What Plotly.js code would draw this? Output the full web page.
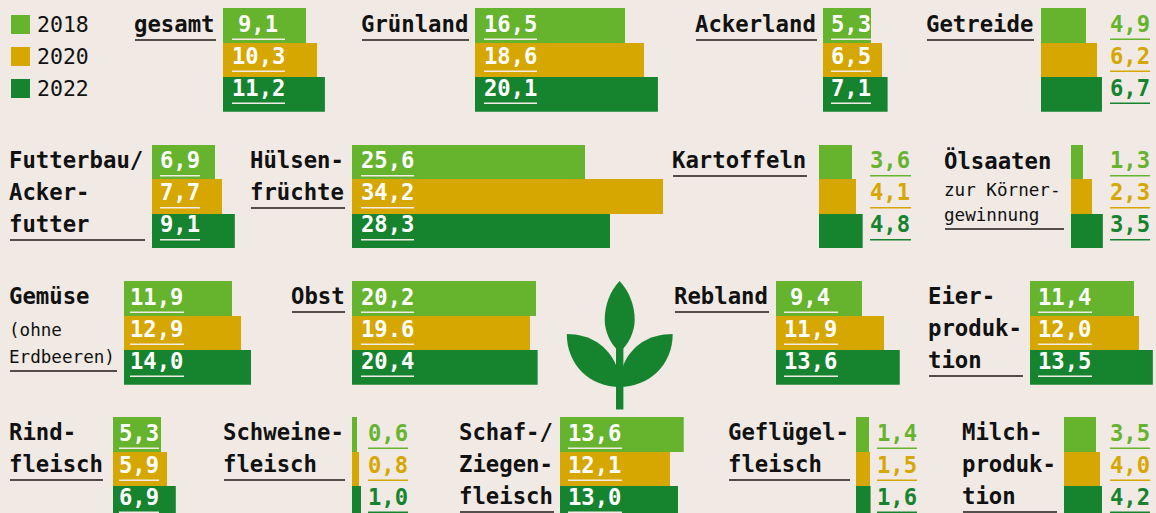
<!DOCTYPE html>
<html lang="de">
<head>
<meta charset="utf-8">
<script src="https://cdn.plot.ly/plotly-3.0.1.min.js"></script>
<style>
html,body{margin:0;padding:0;background:#f0e9e4;overflow:hidden;width:1156px;height:513px}
#chart{width:1156px;height:540px}
</style>
</head>
<body>
<div id="chart"></div>
<script>
const years = ["2018", "2020", "2022"];
const seriesColors = ["#66b32e", "#d6a700", "#16842f"];

const categories = ["gesamt","Grünland","Ackerland","Getreide","Futterbau","Hülsenfrüchte","Kartoffeln","Ölsaaten","Gemüse","Obst","Rebland","Eierproduktion","Rindfleisch","Schweinefleisch","Schaf/Ziegenfleisch","Geflügelfleisch","Milchproduktion"];
const values2018 = [9.1,16.5,5.3,4.9,6.9,25.6,3.6,1.3,11.9,20.2,9.4,11.4,5.3,0.6,13.6,1.4,3.5];
const values2020 = [10.3,18.6,6.5,6.2,7.7,34.2,4.1,2.3,12.9,19.6,11.9,12.0,5.9,0.8,12.1,1.5,4.0];
const values2022 = [11.2,20.1,7.1,6.7,9.1,28.3,4.8,3.5,14.0,20.4,13.6,13.5,6.9,1.0,13.0,1.6,4.2];
const labels2018 = ["9,1","16,5","5,3","4,9","6,9","25,6","3,6","1,3","11,9","20,2","9,4","11,4","5,3","0,6","13,6","1,4","3,5"];
const labels2020 = ["10,3","18,6","6,5","6,2","7,7","34,2","4,1","2,3","12,9","19.6","11,9","12,0","5,9","0,8","12,1","1,5","4,0"];
const labels2022 = ["11,2","20,1","7,1","6,7","9,1","28,3","4,8","3,5","14,0","20,4","13,6","13,5","6,9","1,0","13,0","1,6","4,2"];

// layout of each small multiple: bar start, row, label box, title lines
const W = 1156, H = 540, PX_PER_UNIT = 9.1;
const rowTops = [8, 144.5, 281, 417];
const FONT = '"DejaVu Sans Mono", monospace';
const panels = [
 {x:223,r:0,lx:232,lw:53,tx:135,ul:[216,40],t:[["gesamt",24,1]]},
 {x:475,r:0,lx:484,lw:53,tx:362,ul:[469,40],t:[["Grünland",24,1]]},
 {x:823,r:0,lx:831,lw:40,tx:696,ul:[817,40],t:[["Ackerland",24,1]]},
 {x:1041,r:0,lx:1110,lw:40,out:1,tx:927,ul:[1034,40],t:[["Getreide",24,1]]},
 {x:152,r:1,lx:160,lw:40,tx:10,ul:[145,240],t:[["Futterbau/",160,1],["Acker-",192,1],["futter",224,1]]},
 {x:352,r:1,lx:361,lw:53,tx:251,ul:[345,208],t:[["Hülsen-",160,1],["früchte",192,1]]},
 {x:819,r:1,lx:870,lw:41,out:1,tx:673,ul:[807,176],t:[["Kartoffeln",160,1]]},
 {x:1071,r:1,lx:1110,lw:40,out:1,tx:945,ul:[1064,229],t:[["Ölsaaten",160,1],["zur Körner-",190,0],["gewinnung",215,0]]},
 {x:124,r:2,lx:130,lw:54,tx:10,ul:[117,371],t:[["Gemüse",296,1],["(ohne",330,0],["Erdbeeren)",357,0]]},
 {x:352,r:2,lx:361,lw:53,tx:292,ul:[345,312],t:[["Obst",296,1]]},
 {x:776,r:2,lx:784,lw:54,tx:675,ul:[769,312],t:[["Rebland",296,1]]},
 {x:1030,r:2,lx:1038,lw:54,tx:929,ul:[1023,376],t:[["Eier-",296,1],["produk-",328,1],["tion",360,1]]},
 {x:113,r:3,lx:119,lw:40,tx:10,ul:[103,480],t:[["Rind-",432,1],["fleisch",464,1]]},
 {x:352,r:3,lx:368,lw:40,out:1,tx:224,ul:[345,480],t:[["Schweine-",432,1],["fleisch",464,1]]},
 {x:560,r:3,lx:568,lw:54,tx:460,ul:[554,512],t:[["Schaf-/",432,1],["Ziegen-",464,1],["fleisch",496,1]]},
 {x:856,r:3,lx:877,lw:40,out:1,tx:729,ul:[850,480],t:[["Geflügel-",432,1],["fleisch",464,1]]},
 {x:1064,r:3,lx:1110,lw:40,out:1,tx:963,ul:[1057,512],t:[["Milch-",432,1],["produk-",464,1],["tion",496,1]]}
];

const px = x => x / W, py = y => 1 - y / H;
const traces = [], annotations = [], shapes = [];
const layout = {
  width: W, height: H, margin: {l:0,r:0,t:0,b:0},
  paper_bgcolor: "#f0e9e4", plot_bgcolor: "rgba(0,0,0,0)",
  showlegend: false, bargap: 0, hovermode: false,
  annotations, shapes
};
const text = (s, x, y, size, bold, color, anchor) => annotations.push({
  text: bold ? "<b>" + s + "</b>" : s, xref:"paper", yref:"paper", x:px(x), y:py(y),
  xanchor: anchor || "left", yanchor:"middle", showarrow:false, borderpad:0, borderwidth:0,
  font:{family:FONT, size, color}
});
const rule = (x0, x1, y, color, width) => shapes.push({
  type:"line", xref:"paper", yref:"paper", x0:px(x0), x1:px(x1), y0:py(y), y1:py(y),
  line:{color, width}, layer:"above"
});

categories.forEach((name, i) => {
  const p = panels[i], id = i === 0 ? "" : String(i + 1);
  const vals = [values2018[i], values2020[i], values2022[i]];
  const labs = [labels2018[i], labels2020[i], labels2022[i]];
  const maxV = Math.max(...vals), top = rowTops[p.r];
  traces.push({
    type:"bar", orientation:"h", name, x:vals, y:years, xaxis:"x"+id, yaxis:"y"+id,
    marker:{color:seriesColors, line:{width:0}}, hoverinfo:"skip"
  });
  layout["xaxis"+id] = {domain:[px(p.x), px(p.x + maxV*PX_PER_UNIT)], range:[0,maxV], visible:false, fixedrange:true};
  layout["yaxis"+id] = {domain:[py(top+103.7), py(top)], type:"category", categoryorder:"array", categoryarray:years,
    range:[2.5,-0.5], visible:false, fixedrange:true};
  labs.forEach((lab, k) => {
    const col = p.out ? seriesColors[k] : "#ffffff";
    text(lab, p.lx + p.lw/2 - 0.5, top + 15.7 + k*32, 22.2, true, col, "center");
    rule(p.lx, p.lx + p.lw, top + 31.2 + k*32, p.out ? seriesColors[k] : "#f3ece6", 1.6);
  });
  p.t.forEach(([s, y, b]) => text(s, p.tx - 0.8, y, b ? 22.3 : 17.6, !!b, "#111111"));
  rule(p.tx, p.ul[0], p.ul[1], "#1c1a19", 1.6);
});

// legend
years.forEach((yr, k) => {
  const y = 24.5 + k*32;
  shapes.push({type:"rect", xref:"paper", yref:"paper", x0:px(11), x1:px(30), y0:py(y-9.5), y1:py(y+9.5),
    fillcolor:seriesColors[k], line:{width:0}});
  text(yr, 37.4, y, 21.5, false, "#111111");
});

// plant logo
const P = (cmds) => cmds.map(c => c[0] + " " + c.slice(1).map((v,j) => (j%2 ? py(v) : px(v)).toFixed(5)).join(" ")).join(" ") + " Z";
const leaf = cmds => shapes.push({type:"path", xref:"paper", yref:"paper", path:P(cmds), fillcolor:"#16842f", line:{width:0}});
leaf([["M",619.6,281],["C",610,291,604.7,305,604.7,320],["C",604.7,332,611,345,619.6,352],["C",628.2,345,634.7,332,634.7,320],["C",634.7,305,629,291,619.6,281]]);
leaf([["M",566.8,334],["C",590,334,608,346,616,365],["L",620,387],["C",590,387,566.8,365,566.8,334]]);
leaf([["M",672.7,334],["C",649,334,631,346,623.4,365],["L",619,387],["C",649,387,672.7,365,672.7,334]]);
leaf([["M",616,345],["L",623.4,345],["L",623.4,409.5],["L",616,409.5]]);

Plotly.newPlot("chart", traces, layout, {displayModeBar:false, staticPlot:true});
</script>
</body>
</html>
